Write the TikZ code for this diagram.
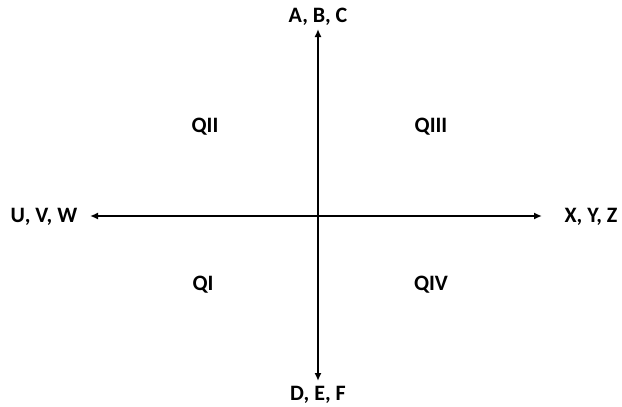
\documentclass[tikz,border=0pt]{standalone}
\usepackage{fontspec}
\setmainfont{Carlito}
\usetikzlibrary{arrows.meta}
\tikzset{
  axislabel/.style={font=\bfseries\fontsize{22}{26}\selectfont, inner sep=0pt},
  axisline/.style={line width=1.6pt, {Latex[length=8pt,width=7pt]}-{Latex[length=8pt,width=7pt]}}
}
\begin{document}
\begin{tikzpicture}[x=1pt,y=-1pt]
\useasboundingbox (0,0) rectangle (622,407);
\coordinate (top) at (318,29);
\coordinate (bottom) at (318,381);
\coordinate (left) at (90,216);
\coordinate (right) at (542,216);
\draw[axisline] (bottom) -- (top);
\draw[axisline] (left) -- (right);
\node[axislabel] (abc) at (318,17) {A, B, C};
\node[axislabel] (def) at (318,395) {D, E, F};
\node[axislabel] (uvw) at (44,217) {U, V, W};
\node[axislabel] (xyz) at (591,217) {X, Y, Z};
\node[axislabel] (q2) at (205,127) {QII};
\node[axislabel] (q3) at (431,127) {QIII};
\node[axislabel] (q1) at (203,285) {QI};
\node[axislabel] (q4) at (431,285) {QIV};
\end{tikzpicture}
\end{document}
